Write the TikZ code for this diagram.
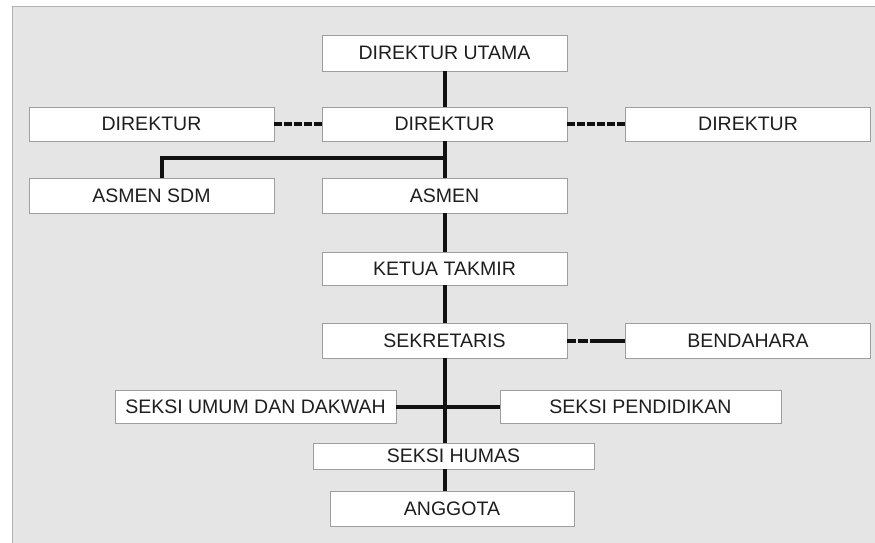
\documentclass[tikz,border=0pt]{standalone}
\usepackage{fontspec}
\setmainfont{Liberation Sans}
\definecolor{bggray}{HTML}{E5E5E5}
\definecolor{bordergray}{HTML}{9E9E9E}
\definecolor{inkc}{HTML}{1E1E1E}
\definecolor{linec}{HTML}{111111}
\begin{document}
\begin{tikzpicture}[x=1pt,y=-1pt,
  orgbox/.style={draw=bordergray,line width=0.9pt,fill=white,inner sep=0pt,
    text=inkc,font=\fontsize{19.5}{22}\selectfont,anchor=center},
  wbox/.style={orgbox,minimum width=245pt},
  xbox/.style={orgbox,minimum width=281pt},
  conn/.style={draw=linec,line width=4pt},
  dconn/.style={draw=linec,line width=4pt,dash pattern=on 8pt off 2pt},
  sconn/.style={draw=linec,line width=4pt,dash pattern=on 9pt off 1.8pt on 10pt off 1.8pt on 60pt}]
\useasboundingbox (0,0) rectangle (875,543);
\fill[white] (0,0) rectangle (875,543);
\path[fill=bggray,draw=bordergray!80,line width=0.8pt] (12.4,6.4) rectangle (876,544);

\node[wbox,minimum height=36pt] (du) at (444.5,53) {DIREKTUR UTAMA};
\node[wbox,minimum height=34pt] (dl) at (151.5,124) {DIREKTUR};
\node[wbox,minimum height=34pt] (dc) at (444.5,124) {DIREKTUR};
\node[wbox,minimum height=34pt] (dr) at (748,124) {DIREKTUR};
\node[wbox,minimum height=35pt] (asdm) at (151.5,195.5) {ASMEN SDM};
\node[wbox,minimum height=35pt] (asmen) at (444.5,195.5) {ASMEN};
\node[wbox,minimum height=33pt] (kt) at (444.5,268.5) {KETUA TAKMIR};
\node[wbox,minimum height=35pt] (sek) at (444.5,340.5) {SEKRETARIS};
\node[wbox,minimum height=35pt] (bend) at (748,340.5) {BENDAHARA};
\node[xbox,minimum height=33pt] (sud) at (255.5,406.5) {SEKSI UMUM DAN DAKWAH};
\node[xbox,minimum height=33pt] (sp) at (640.5,406.5) {SEKSI PENDIDIKAN};
\node[xbox,minimum height=26pt] (hum) at (453.5,456) {SEKSI HUMAS};
\node[wbox,minimum height=35pt,minimum width=244pt] (ang) at (452,508.5) {ANGGOTA};

\coordinate (br) at (444.5,158);
\coordinate (brl) at (162,158);

\draw[conn] (du.south) -- (dc.north);
\draw[conn] (dc.south) -- (asmen.north);
\draw[conn,line join=miter] (br) -- (brl) -- (brl |- asdm.north);
\draw[conn] (asmen.south) -- (kt.north);
\draw[conn] (kt.south) -- (sek.north);
\draw[conn] (sek.south) -- (sek.south |- hum.north);
\draw[conn] (sud.east) -- (sp.west);
\draw[conn] (hum.south -| sek.south) -- (ang.north -| sek.south);
\draw[dconn] (dl.east) -- (dc.west);
\draw[dconn] (dc.east) -- (dr.west);
\draw[sconn] (sek.east) -- (bend.west);
\end{tikzpicture}
\end{document}
